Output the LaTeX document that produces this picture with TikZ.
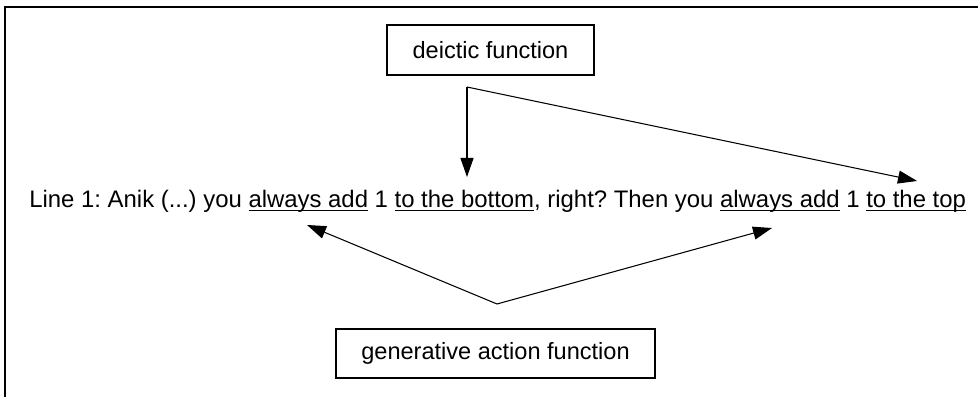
\documentclass[tikz,border=0pt]{standalone}
\usepackage{fontspec}
\setmainfont{Liberation Sans}
\usetikzlibrary{arrows.meta, positioning}
\newcommand{\wordline}[1]{\underline{\smash{#1}}}

\tikzset{
  funcbox/.style={draw, line width=0.9pt, minimum height=1cm, inner sep=0pt,
                  font=\fontsize{13.4}{16}\selectfont},
  pointer/.style={-{Triangle[length=3.8mm, width=2.6mm]}, line width=0.6pt},
}

\begin{document}
\frenchspacing
\begin{tikzpicture}
\useasboundingbox (0,0) rectangle (19.56,7.94);

% Frame (cut off at right and bottom)
\draw[line width=1.4pt] (0.1,0) -- (0.1,7.80) -- (19.56,7.80);

% Function boxes
\node[funcbox, minimum width=4.14cm] (deictic) at (9.81,6.94) {deictic function};
\node[funcbox, minimum width=6.38cm, minimum height=0.98cm] (generative) at (9.91,0.87)
     {generative action function};

% Transcript line
\node[anchor=base west, inner sep=0pt, font=\fontsize{13.6}{16}\selectfont] (line) at (0.58,3.78)
     {Line 1: Anik (...) you \wordline{always add} 1 \wordline{to the bottom}, right? Then you \wordline{always add} 1 \wordline{to the top}};

% Branch points and arrow targets
\coordinate (dsplit) at (9.34,6.20);
\coordinate (bottom) at (9.34,4.40);
\coordinate (top) at (18.34,4.32);
\coordinate (gsplit) at (9.94,1.86);
\coordinate (add1) at (6.14,3.44);
\coordinate (add2) at (15.44,3.38);

% Connections
\draw[pointer] (dsplit) -- (bottom);
\draw[pointer] (dsplit) -- (top);
\draw[pointer] (gsplit) -- (add1);
\draw[pointer] (gsplit) -- (add2);

\end{tikzpicture}
\end{document}
